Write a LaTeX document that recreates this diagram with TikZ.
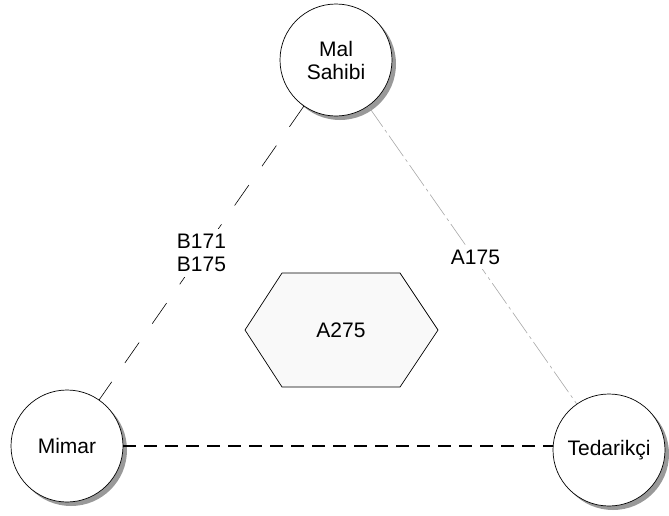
\documentclass[tikz,border=0pt]{standalone}
\usepackage{fontspec}
\setmainfont{Liberation Sans}
\usetikzlibrary{shadows}
\begin{document}
\begin{tikzpicture}[x=1pt,y=-1pt,
  party/.style={circle, draw, line width=0.7pt, fill=white, minimum size=112pt, inner sep=0pt,
    align=center, font=\fontsize{21}{23}\selectfont,
    drop shadow={shadow xshift=4pt, shadow yshift=-4pt, fill=gray!80, opacity=1}},
  lbl/.style={fill=white, align=center, inner sep=5pt, font=\fontsize{21}{23}\selectfont},
  owneredge/.style={line width=0.6pt, dash pattern=on 25pt off 23pt},
  supedge/.style={line width=0.6pt, draw=gray!70, dash pattern=on 25pt off 4pt on 3pt off 4pt},
  mainedge/.style={line width=1.8pt, dash pattern=on 13pt off 8pt},
  hexbox/.style={draw, line width=0.7pt, fill=gray!5}]
\useasboundingbox (0,0) rectangle (669,515);
\node[party] (mal) at (336,60) {Mal\\Sahibi};
\node[party] (mimar) at (67,446) {Mimar};
\node[party] (ted) at (609,450) {Tedarikçi};
\draw[owneredge] (mal) -- node[lbl, pos=0.5] (b) {B171\\B175} (mimar);
\draw[supedge] (mal) -- node[lbl, pos=0.5, xshift=3pt, yshift=-2pt] (a175) {A175} (ted);
\draw[mainedge] (mimar.east) -- (mimar.east -| ted.west);
\draw[hexbox] (245,330) -- (282,273) -- (400,273) -- (438,330) -- (400,387) -- (282,387) -- cycle;
\node[font=\fontsize{21}{23}\selectfont] (a275) at (341,330) {A275};
\end{tikzpicture}
\end{document}
